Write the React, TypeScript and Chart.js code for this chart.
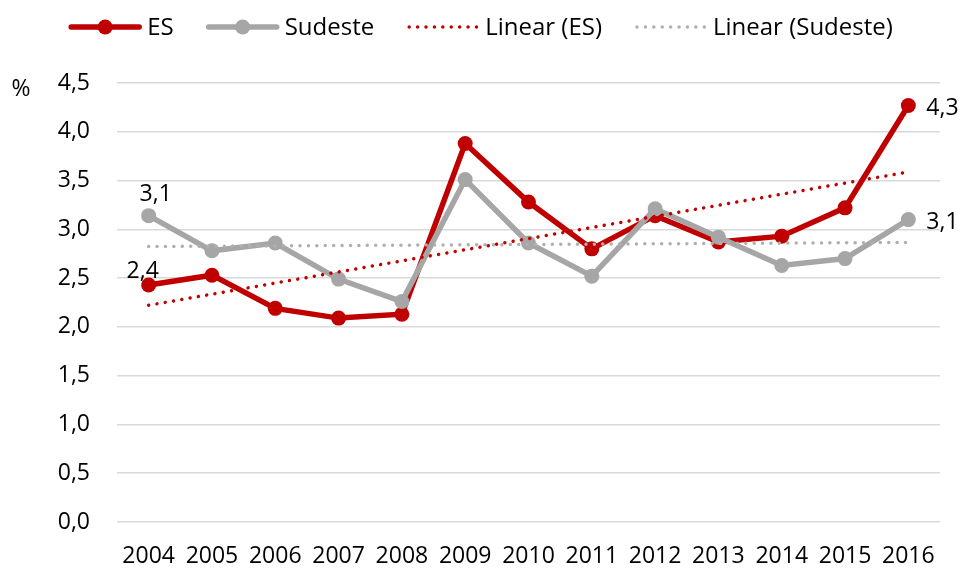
import React, { useEffect, useRef } from 'react';
import { Chart, registerables } from 'chart.js';

Chart.register(...registerables);

const categories = ['2004', '2005', '2006', '2007', '2008', '2009', '2010', '2011', '2012', '2013', '2014', '2015', '2016'];
const esValues = [2.43, 2.53, 2.19, 2.09, 2.13, 3.88, 3.28, 2.8, 3.14, 2.87, 2.93, 3.22, 4.27];
const sudesteValues = [3.14, 2.78, 2.86, 2.49, 2.26, 3.51, 2.86, 2.52, 3.21, 2.92, 2.63, 2.7, 3.1];
const seriesNames = ['ES', 'Sudeste', 'Linear (ES)', 'Linear (Sudeste)'];
const yMin = 0;
const yMax = 4.5;
const yStep = 0.5;
const yUnit = '%';

const RED = '#C00000';
const GRAY = '#A6A6A6';
const GRAY_TREND = '#AFAFAF';
const FONT_FAMILY = '"Open Sans", sans-serif';
const FONT_SIZE = 23;
const LEGEND_FONT_SIZE = 24;

// which points carry a value label, and where it sits
const labelSpecs = [
  { ds: 0, idx: 0, dx: -6, dy: -7, align: 'center' as CanvasTextAlign },
  { ds: 1, idx: 0, dx: 7, dy: -15, align: 'center' as CanvasTextAlign },
  { ds: 0, idx: 12, dx: 18, dy: 10, align: 'left' as CanvasTextAlign },
  { ds: 1, idx: 12, dx: 18, dy: 9, align: 'left' as CanvasTextAlign },
];

function linearTrend(values: number[]): number[] {
  const n = values.length;
  const xm = (n - 1) / 2;
  const ym = values.reduce((a, b) => a + b, 0) / n;
  let sxy = 0;
  let sxx = 0;
  values.forEach((v, i) => {
    sxy += (i - xm) * (v - ym);
    sxx += (i - xm) * (i - xm);
  });
  const slope = sxy / sxx;
  return values.map((_, i) => ym + slope * (i - xm));
}

const fmt = (v: number) => v.toFixed(1).replace('.', ',');

const decorPlugin = {
  id: 'decor',
  afterDatasetsDraw(chart: any) {
    const ctx = chart.ctx as CanvasRenderingContext2D;
    ctx.save();
    ctx.font = `${FONT_SIZE}px ${FONT_FAMILY}`;
    ctx.fillStyle = '#000';
    // data labels
    labelSpecs.forEach((s) => {
      const meta = chart.getDatasetMeta(s.ds);
      const pt = meta.data[s.idx];
      const v = chart.data.datasets[s.ds].data[s.idx] as number;
      ctx.textAlign = s.align;
      ctx.textBaseline = 'alphabetic';
      ctx.fillText(fmt(v), pt.x + s.dx, pt.y + s.dy);
    });
    // unit label
    ctx.textAlign = 'center';
    ctx.textBaseline = 'middle';
    ctx.fillText(yUnit, 21, 89);

    // legend
    ctx.font = `${LEGEND_FONT_SIZE}px ${FONT_FAMILY}`;
    const sampleW = 72;
    const gapText = 6;
    const gapItem = 33;
    const styles = [
      { color: RED, dotted: false, marker: true },
      { color: GRAY, dotted: false, marker: true },
      { color: RED, dotted: true, marker: false },
      { color: GRAY_TREND, dotted: true, marker: false },
    ];
    const widths = seriesNames.map((n) => ctx.measureText(n).width);
    let total = 0;
    widths.forEach((w, i) => {
      total += sampleW + gapText + w + (i < widths.length - 1 ? gapItem : 0);
    });
    let x = (chart.width - total) / 2;
    const y = 27;
    seriesNames.forEach((name, i) => {
      const st = styles[i];
      ctx.beginPath();
      ctx.strokeStyle = st.color;
      if (st.dotted) {
        ctx.lineWidth = 3.5;
        ctx.lineCap = 'round';
        ctx.setLineDash([0.01, 8.4]);
        ctx.moveTo(x + 2, y);
        ctx.lineTo(x + sampleW, y);
      } else {
        ctx.lineWidth = 5.5;
        ctx.lineCap = 'round';
        ctx.setLineDash([]);
        ctx.moveTo(x + 2, y);
        ctx.lineTo(x + sampleW - 2, y);
      }
      ctx.stroke();
      ctx.setLineDash([]);
      if (st.marker) {
        ctx.beginPath();
        ctx.fillStyle = st.color;
        ctx.arc(x + sampleW / 2, y, 7.5, 0, Math.PI * 2);
        ctx.fill();
      }
      ctx.fillStyle = '#000';
      ctx.textAlign = 'left';
      ctx.textBaseline = 'middle';
      ctx.fillText(name, x + sampleW + gapText, y + 1);
      x += sampleW + gapText + widths[i] + gapItem;
    });
    ctx.restore();
  },
};

export default function App() {
  const ref = useRef<HTMLCanvasElement | null>(null);
  useEffect(() => {
    if (!ref.current) return;
    const esTrend = linearTrend(esValues);
    const suTrend = linearTrend(sudesteValues);
    const chart = new Chart(ref.current, {
      type: 'line',
      data: {
        labels: categories,
        datasets: [
          {
            label: seriesNames[0],
            data: esValues,
            borderColor: RED,
            backgroundColor: RED,
            borderWidth: 5.5,
            pointRadius: 7.5,
            pointBorderWidth: 0,
            pointBackgroundColor: RED,
            tension: 0,
            order: 2,
          },
          {
            label: seriesNames[1],
            data: sudesteValues,
            borderColor: GRAY,
            backgroundColor: GRAY,
            borderWidth: 5.5,
            pointRadius: 7.5,
            pointBorderWidth: 0,
            pointBackgroundColor: GRAY,
            tension: 0,
            order: 1,
          },
          {
            label: seriesNames[2],
            data: esTrend,
            borderColor: RED,
            borderWidth: 3.5,
            borderDash: [0.01, 8.4],
            borderCapStyle: 'round',
            pointRadius: 0,
            tension: 0,
            order: 0,
          },
          {
            label: seriesNames[3],
            data: suTrend,
            borderColor: GRAY_TREND,
            borderWidth: 3.5,
            borderDash: [0.01, 8.4],
            borderCapStyle: 'round',
            pointRadius: 0,
            tension: 0,
            order: 0,
          },
        ],
      },
      options: {
        animation: false,
        responsive: false,
        devicePixelRatio: 1,
        layout: { padding: { top: 83, right: 22, bottom: 0, left: 0 } },
        plugins: { legend: { display: false }, tooltip: { enabled: false } },
        scales: {
          x: {
            offset: true,
            grid: { display: false, drawTicks: false },
            border: { display: false },
            ticks: {
              font: { family: FONT_FAMILY, size: FONT_SIZE },
              color: '#000',
              padding: 21,
              maxRotation: 0,
              autoSkip: false,
            },
            afterFit: (s: any) => {
              s.height = 46;
            },
          },
          y: {
            min: yMin,
            max: yMax,
            ticks: {
              stepSize: yStep,
              font: { family: FONT_FAMILY, size: FONT_SIZE },
              color: '#000',
              padding: 27,
              callback: (v: any) => fmt(Number(v)),
            },
            grid: { color: '#D9D9D9', lineWidth: 1.5, drawTicks: false },
            border: { display: false },
            afterFit: (s: any) => {
              s.width = 117;
            },
          },
        },
      },
      plugins: [decorPlugin],
    } as any);
    return () => chart.destroy();
  }, []);
  return (
    <div style={{ position: 'absolute', left: 0, top: 0, width: 962, height: 568, background: '#fff' }}>
      <canvas ref={ref} width={962} height={568} style={{ display: 'block' }} />
    </div>
  );
}
